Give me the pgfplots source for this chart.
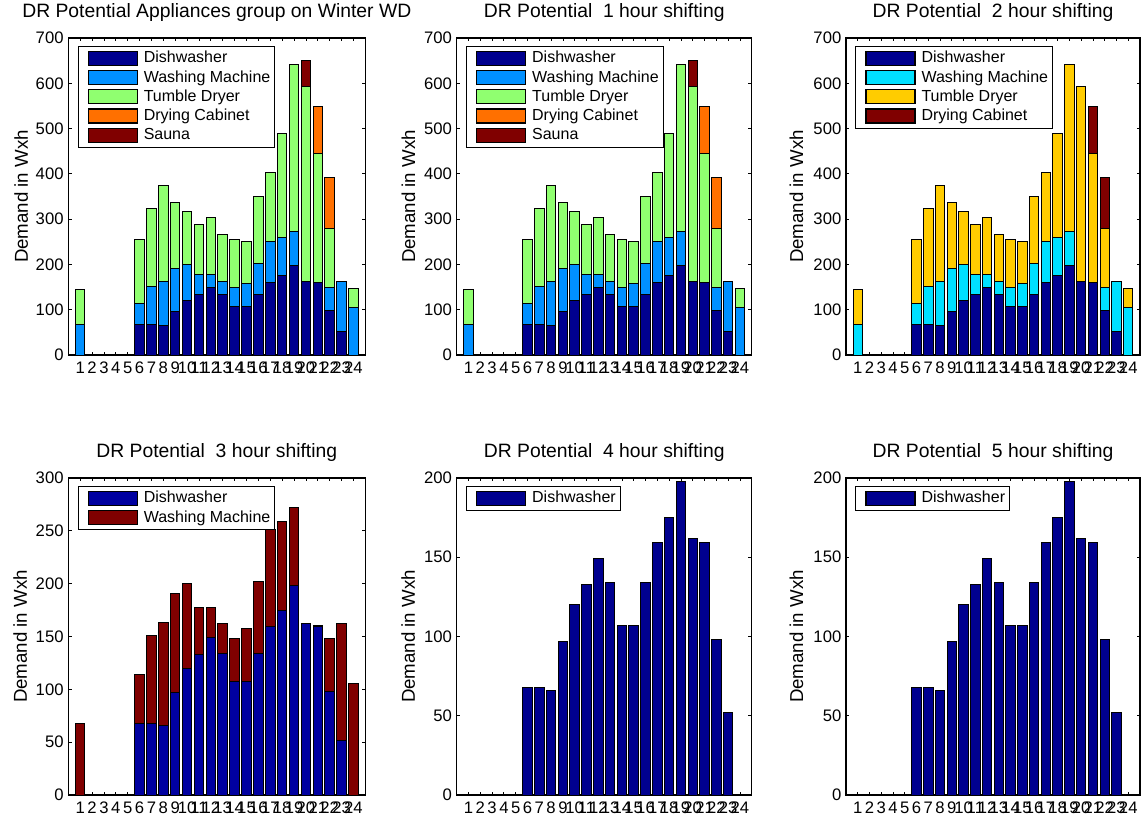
\documentclass[border=0pt]{standalone}
\usepackage{pgfplots}
\pgfplotsset{compat=1.18}
\usepackage{pgfplotstable}
\usepackage{fontspec}
\setmainfont{Liberation Sans}

\definecolor{cDish}{RGB}{0,0,143}
\definecolor{cWash}{RGB}{0,144,255}
\definecolor{cTumble}{RGB}{144,255,112}
\definecolor{cCab}{RGB}{255,112,0}
\definecolor{cSauna}{RGB}{128,0,0}
\definecolor{cCyan}{RGB}{0,224,255}
\definecolor{cGold}{RGB}{255,204,0}
\definecolor{cDishB}{RGB}{0,0,160}

% top of each stacked segment (cumulative demand in Wxh); nan = no segment
\pgfplotstableread{
x d w t c s
1 nan 68 144 nan nan
2 nan nan nan nan nan
3 nan nan nan nan nan
4 nan nan nan nan nan
5 nan nan nan nan nan
6 68 114 255 nan nan
7 68 151 323 nan nan
8 66 163 375 nan nan
9 97 191 337 nan nan
10 120 200 317 nan nan
11 133 177 288 nan nan
12 149 177 303 nan nan
13 134 162 265 nan nan
14 107 148 254 nan nan
15 107 158 251 nan nan
16 134 202 351 nan nan
17 159 251 403 nan nan
18 175 259 489 nan nan
19 198 272 641 nan nan
20 162 nan 592 nan 651
21 159 160 444 548 nan
22 98 148 279 392 nan
23 52 162 nan nan nan
24 nan 106 147 nan nan
}\data

\pgfplotsset{
  panel/.style={
    scale only axis, height=237.75pt,
    xmin=0, xmax=25, ymin=0,
    ybar, bar shift=0pt, bar width=0.8,
    xtick={1,...,24},
    tick align=inside, tick pos=both,
    major tick length=2.5pt,
    axis line style={line width=0.8pt},
    every tick/.style={black, line width=0.6pt},
    tick label style={font=\fontsize{12.5}{15}\selectfont},
    xticklabel style={yshift=-1.8pt},
    /pgf/number format/assume math mode=true,
    ylabel={Demand in Wxh},
    ylabel style={anchor=base, inner sep=0pt, font=\fontsize{14}{16}\selectfont},
    title style={at={(axis description cs:0.5,1)}, anchor=base, yshift=9.2pt, inner sep=0pt, font=\fontsize{14.5}{17}\selectfont},
    legend style={at={(axis description cs:0,1)}, anchor=north west, xshift=7pt, yshift=-5.8pt, draw=black, line width=0.7pt, font=\fontsize{12}{14}\selectfont, inner xsep=1.4pt, inner ysep=2pt, column sep=2.5pt, nodes={inner xsep=2pt, inner ysep=1.45pt, text height=9pt, text depth=2.5pt}},
    legend cell align=left,
    reverse legend,
    legend image code/.code={\path (0pt,0pt); \draw[#1, line width=0.9pt] (5.8pt,-5.25pt) rectangle (42.55pt,5.25pt);},
    every axis plot/.append style={draw=black, line width=0.75pt},
  }
}

\begin{document}
\begin{tikzpicture}
\path[use as bounding box] (0,0) rectangle (858pt,614.25pt);

% top left
\begin{axis}[panel, at={(51.2pt,348pt)}, width=222.8pt, ymax=700, ytick={0,100,...,700},
  ylabel style={at={(axis description cs:-0.136,0.5)}},
  title={DR Potential Appliances group on Winter WD}]
\addplot[fill=cSauna] table[x=x,y=s]{\data};
\addplot[fill=cCab] table[x=x,y=c]{\data};
\addplot[fill=cTumble] table[x=x,y=t]{\data};
\addplot[fill=cWash] table[x=x,y=w]{\data};
\addplot[fill=cDish] table[x=x,y=d]{\data};
\legend{Sauna, Drying Cabinet, Tumble Dryer, Washing Machine, Dishwasher}
\end{axis}

% top middle
\begin{axis}[panel, at={(342.5pt,348pt)}, width=221.3pt, ymax=700, ytick={0,100,...,700},
  ylabel style={at={(axis description cs:-0.141,0.5)}},
  title={DR Potential~ 1 hour shifting}]
\addplot[fill=cSauna] table[x=x,y=s]{\data};
\addplot[fill=cCab] table[x=x,y=c]{\data};
\addplot[fill=cTumble] table[x=x,y=t]{\data};
\addplot[fill=cWash] table[x=x,y=w]{\data};
\addplot[fill=cDish] table[x=x,y=d]{\data};
\legend{Sauna, Drying Cabinet, Tumble Dryer, Washing Machine, Dishwasher}
\end{axis}

% top right
\begin{axis}[panel, at={(634.5pt,348pt)}, width=220.5pt, ymax=700, ytick={0,100,...,700},
  ylabel style={at={(axis description cs:-0.146,0.5)}},
  title={DR Potential~ 2 hour shifting}]
\addplot[fill=cSauna] table[x=x,y=c]{\data};
\addplot[fill=cGold] table[x=x,y=t]{\data};
\addplot[fill=cCyan] table[x=x,y=w]{\data};
\addplot[fill=cDish] table[x=x,y=d]{\data};
\legend{Drying Cabinet, Tumble Dryer, Washing Machine, Dishwasher}
\end{axis}

% bottom left
\begin{axis}[panel, at={(51.2pt,18pt)}, width=222.8pt, ymax=300, ytick={0,50,...,300},
  ylabel style={at={(axis description cs:-0.139,0.5)}},
  title={DR Potential~ 3 hour shifting}]
\addplot[fill=cSauna] table[x=x,y=w]{\data};
\addplot[fill=cDishB] table[x=x,y=d]{\data};
\legend{Washing Machine, Dishwasher}
\end{axis}

% bottom middle
\begin{axis}[panel, at={(342.5pt,18pt)}, width=221.3pt, ymax=200, ytick={0,50,...,200},
  ylabel style={at={(axis description cs:-0.142,0.5)}},
  title={DR Potential~ 4 hour shifting}]
\addplot[fill=cDish] table[x=x,y=d]{\data};
\legend{Dishwasher}
\end{axis}

% bottom right
\begin{axis}[panel, at={(634.5pt,18pt)}, width=220.5pt, ymax=200, ytick={0,50,...,200},
  ylabel style={at={(axis description cs:-0.146,0.5)}},
  title={DR Potential~ 5 hour shifting}]
\addplot[fill=cDish] table[x=x,y=d]{\data};
\legend{Dishwasher}
\end{axis}
\end{tikzpicture}
\end{document}
